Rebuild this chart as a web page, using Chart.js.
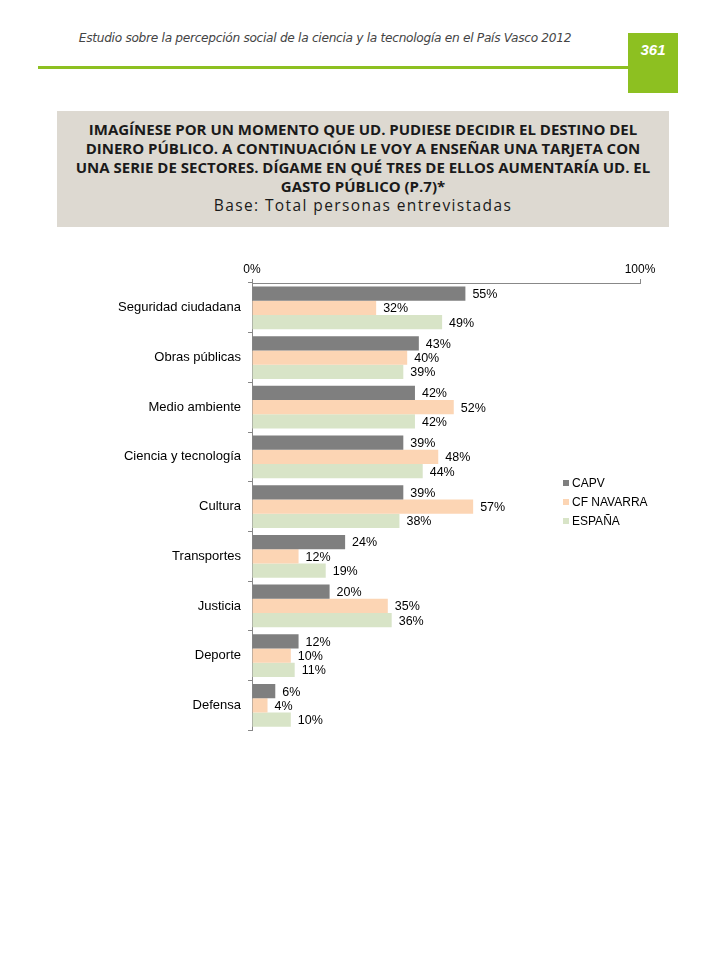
<!DOCTYPE html>
<html>
<head>
<meta charset="utf-8">
<script src="https://cdn.jsdelivr.net/npm/chart.js@4/dist/chart.umd.min.js"></script>
<style>
  body { margin: 0; width: 720px; height: 960px; background: #fff; position: relative; font-family: "Liberation Sans", Arial, sans-serif; }
  #header { position: absolute; left: 20px; top: 31px; width: 610px; text-align: center; font-style: italic; font-size: 12.2px; color: #444; font-family: "DejaVu Sans", sans-serif; letter-spacing: -0.3px; }
  #rule { position: absolute; left: 38px; top: 66px; width: 592px; height: 3px; background: #8dc021; }
  #page { position: absolute; left: 628px; top: 33px; width: 50px; height: 60px; background: #8dc021; color: #fff; font-weight: bold; font-style: italic; font-size: 15px; text-align: center; line-height: 33px; }
  #titlebox { position: absolute; left: 57px; top: 111px; width: 612px; height: 116px; background: #ddd9d1; text-align: center; color: #1a1a1a; font-family: "Open Sans", sans-serif; }
  #titlebox .q { font-weight: bold; font-size: 15px; line-height: 19px; padding-top: 9px; white-space: nowrap; }
  #titlebox .b { font-size: 15.5px; line-height: 19px; letter-spacing: 1.4px; }
  #chartWrap { position: absolute; left: 0; top: 255px; width: 720px; height: 490px; }
  #legend { position: absolute; left: 563px; top: 474px; font-size: 12px; color: #000; }
  #legend div { height: 19px; line-height: 19px; }
  #legend span { display: inline-block; width: 6px; height: 6px; margin-right: 3px; vertical-align: 1px; }
</style>
</head>
<body>
<div id="header">Estudio sobre la percepción social de la ciencia y la tecnología en el País Vasco 2012</div>
<div id="rule"></div>
<div id="page">361</div>
<div id="titlebox">
  <div class="q">IMAGÍNESE POR UN MOMENTO QUE UD. PUDIESE DECIDIR EL DESTINO DEL<br>DINERO PÚBLICO. A CONTINUACIÓN LE VOY A ENSEÑAR UNA TARJETA CON<br>UNA SERIE DE SECTORES. DÍGAME EN QUÉ TRES DE ELLOS AUMENTARÍA UD. EL<br>GASTO PÚBLICO (P.7)*</div>
  <div class="b">Base: Total personas entrevistadas</div>
</div>
<div id="chartWrap"><canvas id="chart"></canvas></div>
<div id="legend"></div>

<script>
'use strict';

// ***** DATA *****
let categories = ['Seguridad ciudadana', 'Obras públicas', 'Medio ambiente', 'Ciencia y tecnología', 'Cultura', 'Transportes', 'Justicia', 'Deporte', 'Defensa'];
let seriesNames = ['CAPV', 'CF NAVARRA', 'ESPAÑA'];
let capv = [55, 43, 42, 39, 39, 24, 20, 12, 6];
let navarra = [32, 40, 52, 48, 57, 12, 35, 10, 4];
let espana = [49, 39, 42, 44, 38, 19, 36, 11, 10];
let axisTicks = [0, 100];

let seriesColors = ['#7f7f7f', '#fcd5b4', '#d8e4c7'];

// ***** LEGEND *****
let legendElem = document.getElementById('legend');
for (let i = 0; i < seriesNames.length; i++) {
  let row = document.createElement('div');
  row.innerHTML = `<span style="background:${seriesColors[i]}"></span>${seriesNames[i]}`;
  legendElem.appendChild(row);
}

// ***** VALUE LABELS PLUGIN *****
let valueLabels = {
  id: 'valueLabels',
  afterDatasetsDraw(chart) {
    let ctx = chart.ctx;
    ctx.save();
    ctx.font = '12.5px "Liberation Sans", Arial, sans-serif';
    ctx.fillStyle = '#000';
    ctx.textBaseline = 'middle';
    chart.data.datasets.forEach((ds, i) => {
      chart.getDatasetMeta(i).data.forEach((bar, j) => {
        ctx.fillText(ds.data[j] + '%', bar.x + 7, bar.y + 1);
      });
    });
    ctx.restore();
  }
};

let canvasElem = document.getElementById('chart');

new Chart(canvasElem, {
  type: 'bar',
  data: {
    labels: categories,
    datasets: [
      { label: seriesNames[0], data: capv, backgroundColor: seriesColors[0] },
      { label: seriesNames[1], data: navarra, backgroundColor: seriesColors[1] },
      { label: seriesNames[2], data: espana, backgroundColor: seriesColors[2] }
    ]
  },
  options: {
    indexAxis: 'y',
    responsive: true,
    maintainAspectRatio: false,
    animation: false,
    layout: { padding: { left: 0, right: 80, top: 0, bottom: 5 } },
    categoryPercentage: 0.86,
    barPercentage: 1.0,
    plugins: {
      legend: { display: false },
      tooltip: { enabled: false }
    },
    scales: {
      x: {
        position: 'top',
        min: 0,
        max: 100,
        afterBuildTicks: (scale) => { scale.ticks = axisTicks.map(v => ({ value: v })); },
        afterFit: (scale) => { scale.height = 28; },
        ticks: {
          callback: (v) => v + '%',
          color: '#000',
          font: { size: 12, family: '"Liberation Sans", Arial, sans-serif' },
          padding: 2,
          maxRotation: 0
        },
        grid: { drawOnChartArea: false, tickLength: 4, color: '#888' },
        border: { color: '#888' }
      },
      y: {
        afterFit: (scale) => { scale.width = 252; },
        ticks: {
          color: '#000',
          font: { size: 13, family: '"Liberation Sans", Arial, sans-serif' },
          padding: 7
        },
        grid: { drawOnChartArea: false, offset: true, tickLength: 4, color: '#888' },
        border: { color: '#888' }
      }
    }
  },
  plugins: [valueLabels]
});
</script>
</body>
</html>
